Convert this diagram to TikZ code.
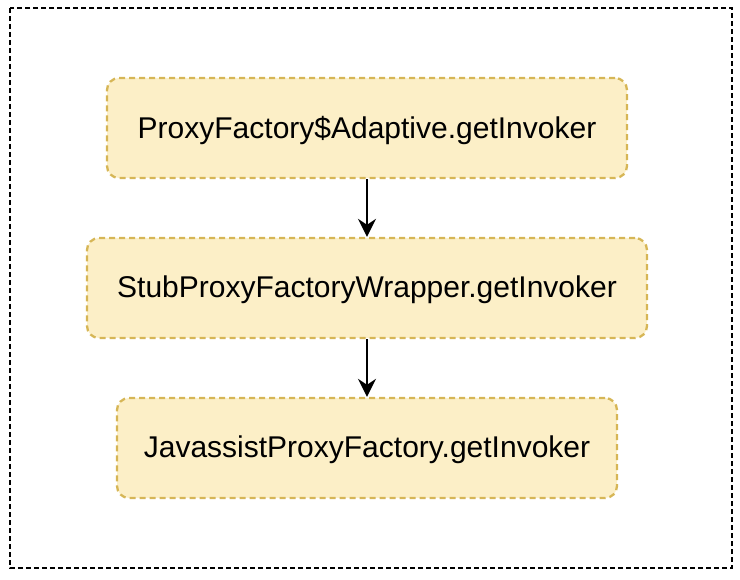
\documentclass[tikz,border=0pt]{standalone}
\usepackage{fontspec}
\setmainfont{Liberation Sans}
\usetikzlibrary{arrows.meta}

\definecolor{callfill}{HTML}{FCEFC7}
\definecolor{callline}{HTML}{D6B656}

\tikzset{
  callbox/.style={draw=callline, fill=callfill, line width=2.3pt, dash pattern=on 6pt off 4pt,
    rounded corners=12pt, minimum height=100pt, text depth=2pt,
    font=\fontsize{30}{34}\selectfont, text=black},
  callarrow/.style={line width=2.4pt, -{Stealth[length=18pt,width=18pt,inset=6pt]}}
}

\begin{document}
\begin{tikzpicture}[x=1pt,y=-1pt]

  \useasboundingbox (0,0) rectangle (740,580);
  \draw[line width=2.8pt, dash pattern=on 5pt off 3pt] (10,8) rectangle (732,568);

  \node[callbox, minimum width=520pt] (factory) at (367,128) {ProxyFactory\$Adaptive.getInvoker};
  \node[callbox, minimum width=560pt] (wrapper) at (367,288) {StubProxyFactoryWrapper.getInvoker};
  \node[callbox, minimum width=500pt] (javassist) at (367,448) {JavassistProxyFactory.getInvoker};

  \draw[callarrow] (factory) -- (wrapper);
  \draw[callarrow] (wrapper) -- (javassist);

\end{tikzpicture}
\end{document}
